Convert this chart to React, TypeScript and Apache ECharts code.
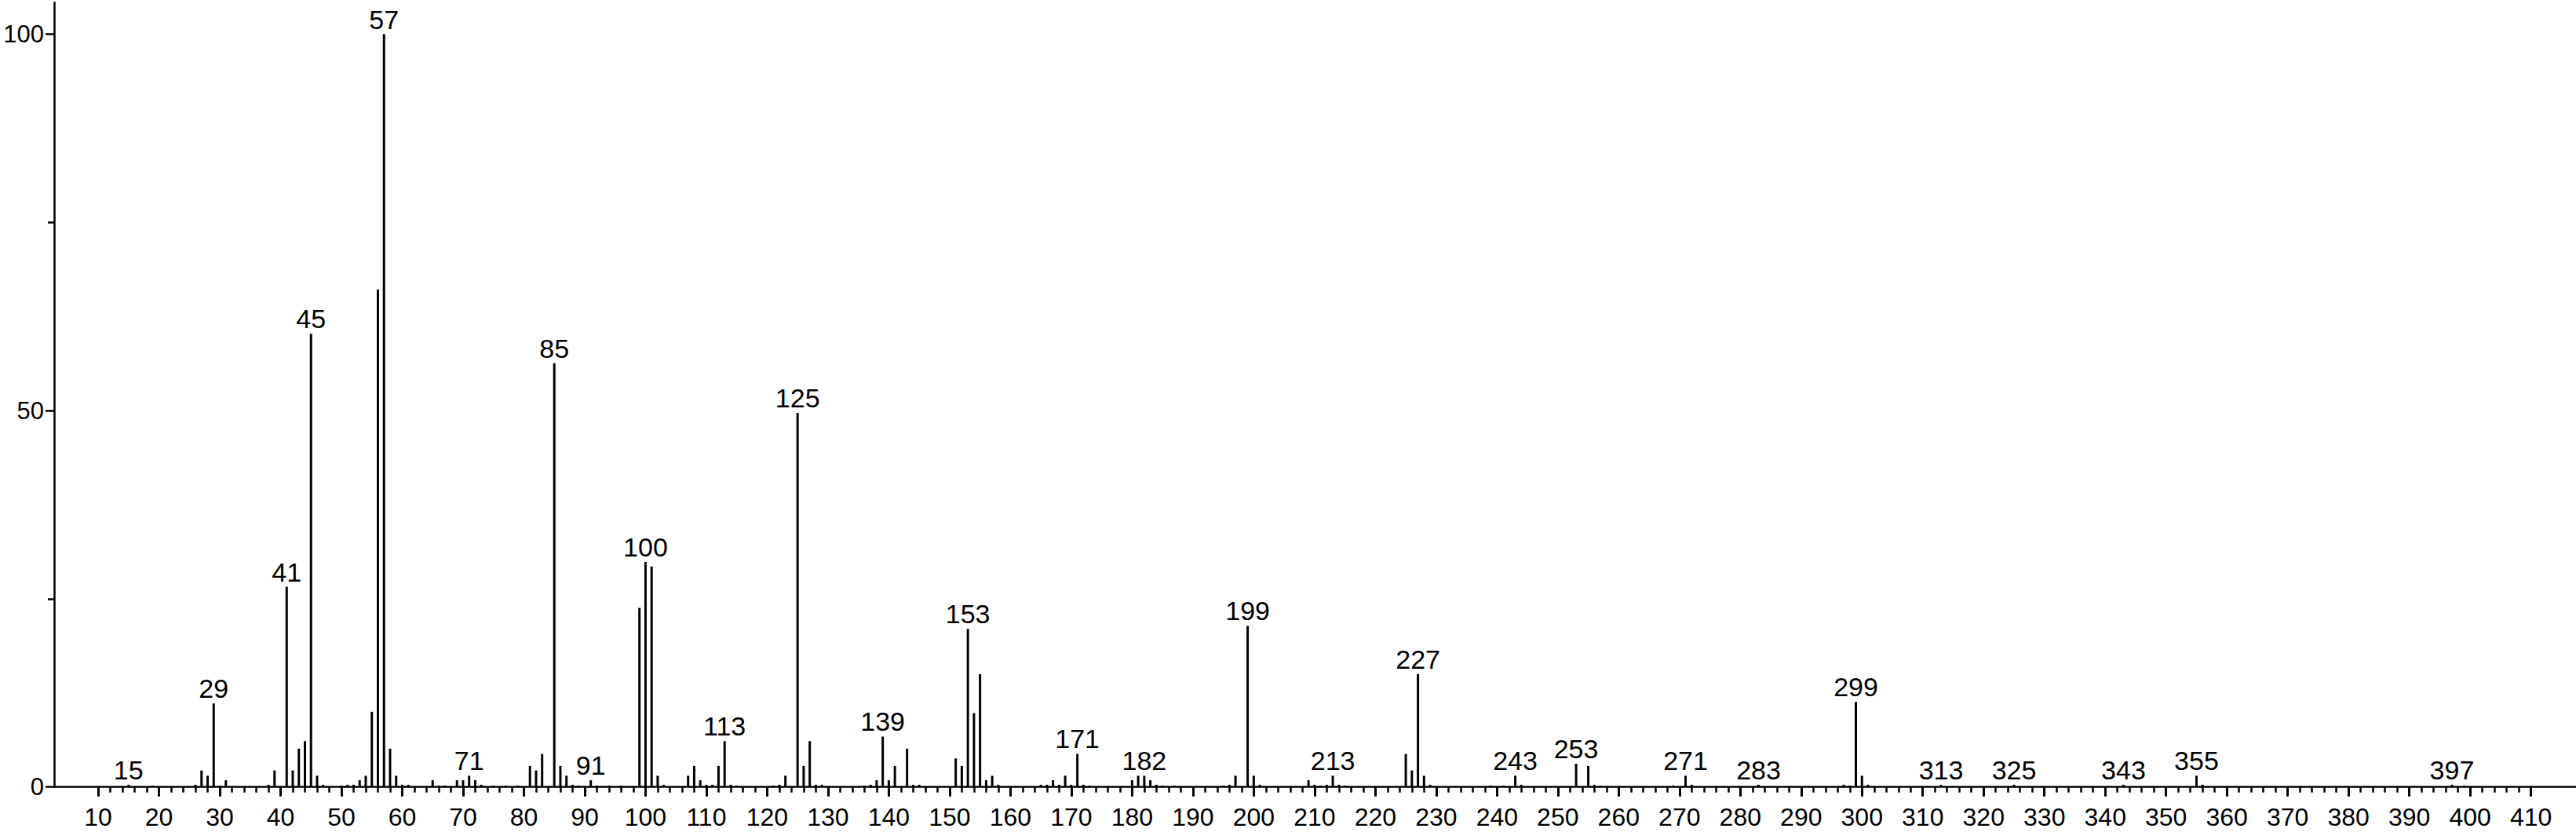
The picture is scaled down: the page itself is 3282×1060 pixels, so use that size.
import React, { useEffect, useRef } from "react";
import * as echarts from "echarts";

// m/z values of the peaks
const masses = [
  15, 19, 26, 27, 28, 29, 30, 31, 38, 39, 41, 42, 43, 44, 45, 46, 47, 50, 51, 52,
  53, 54, 55, 56, 57, 58, 59, 60, 61, 65, 66, 67, 69, 70, 71, 72, 73, 75, 77, 79,
  81, 82, 83, 85, 86, 87, 88, 89, 91, 92, 94, 96, 99, 100, 101, 102, 103, 107, 108, 109,
  110, 111, 112, 113, 114, 115, 121, 122, 123, 125, 126, 127, 128, 129, 136, 137, 138, 139, 140, 141,
  143, 144, 145, 151, 152, 153, 154, 155, 156, 157, 158, 165, 166, 167, 168, 169, 170, 171, 172, 173,
  180, 181, 182, 183, 184, 185, 187, 195, 196, 197, 199, 200, 201, 209, 210, 211, 212, 213, 214, 215,
  225, 226, 227, 228, 229, 239, 241, 243, 244, 253, 255, 256, 257, 269, 271, 272, 283, 297, 298, 299,
  300, 301, 313, 325, 343, 355, 356, 397, 399,
];

// relative intensities (%)
const intensities = [
  0.3, 0.2, 0.3, 2.2, 1.5, 11.1, 0.2, 0.9, 0.3, 2.2, 26.6, 2.2, 5.1, 6.1, 60.2, 1.5, 0.3, 0.2, 0.3, 0.3,
  0.9, 1.5, 10.0, 66.1, 100, 5.1, 1.5, 0.3, 0.3, 0.9, 0.2, 0.2, 0.9, 0.9, 1.5, 0.9, 0.3, 0.2, 0.2, 0.2,
  2.8, 2.2, 4.4, 56.3, 2.8, 1.5, 0.3, 0.2, 0.9, 0.2, 0.2, 0.2, 23.8, 29.9, 29.3, 1.5, 0.3, 1.5, 2.8, 0.9,
  0.3, 0.3, 2.8, 6.1, 0.3, 0.2, 0.2, 0.3, 1.5, 49.7, 2.8, 6.1, 0.3, 0.3, 0.2, 0.3, 0.9, 6.7, 0.9, 2.8,
  5.1, 0.3, 0.3, 3.8, 2.8, 21.0, 9.8, 15.0, 0.9, 1.5, 0.3, 0.3, 0.3, 0.9, 0.3, 1.5, 0.3, 4.4, 0.3, 0.2,
  0.9, 1.5, 1.5, 0.9, 0.3, 0.2, 0.2, 0.2, 0.3, 1.5, 21.4, 1.5, 0.3, 0.9, 0.3, 0.2, 0.3, 1.5, 0.3, 0.2,
  4.4, 2.2, 15.0, 1.5, 0.3, 0.2, 0.2, 1.5, 0.3, 3.1, 2.8, 0.3, 0.2, 0.2, 1.5, 0.3, 0.3, 0.3, 0.2, 11.3,
  1.5, 0.3, 0.3, 0.3, 0.3, 1.5, 0.3, 0.3, 0.2,
];

// peaks annotated with their m/z
const labeledMasses = [
  15, 29, 41, 45, 57, 71, 85, 91, 100, 113, 125, 139, 153, 171, 182, 199, 213, 227, 243, 253,
  271, 283, 299, 313, 325, 343, 355, 397,
];

// axis tick labels
const xMajorTicks = [
  10, 20, 30, 40, 50, 60, 70, 80, 90, 100, 110, 120, 130, 140, 150, 160, 170, 180, 190, 200,
  210, 220, 230, 240, 250, 260, 270, 280, 290, 300, 310, 320, 330, 340, 350, 360, 370, 380, 390, 400, 410,
];
const yMajorTicks = [0, 50, 100];
const yMinorTicks = [25, 75];

const xMinorTicks: number[] = [];
for (let i = 0; i < xMajorTicks.length - 1; i++) {
  for (let k = 2; k < 10; k += 2) xMinorTicks.push(xMajorTicks[i] + k);
}

const X_MIN = 2.77;
const X_MAX = 417.4;
const Y_MIN = 0;
const Y_MAX = 104.2;
const FONT = "'Liberation Sans', Arial, Helvetica, sans-serif";

export default function App() {
  const ref = useRef<HTMLDivElement>(null);

  useEffect(() => {
    if (!ref.current) return;
    const chart = echarts.init(ref.current, undefined, { renderer: "svg" });
    const labeled = new Set(labeledMasses);
    const data = masses.map((m, i) => ({
      value: [m, intensities[i]],
      label: { show: labeled.has(m) },
    }));

    const option: any = {
      animation: false,
      backgroundColor: "#ffffff",
      grid: {
        left: 69,
        right: 0,
        top: 3.3,
        bottom: 57.3,
        containLabel: false,
        outerBoundsMode: "none",
      },
      xAxis: [
        {
          type: "value",
          min: X_MIN,
          max: X_MAX,
          position: "bottom",
          axisLine: { show: true, onZero: false, lineStyle: { color: "#000", width: 2.5 } },
          axisTick: {
            show: true,
            length: 12,
            customValues: xMajorTicks,
            lineStyle: { color: "#000", width: 3 },
          },
          axisLabel: {
            show: true,
            customValues: xMajorTicks,
            fontSize: 32,
            margin: 22,
            color: "#000",
            fontFamily: FONT,
          },
          splitLine: { show: false },
        },
        {
          type: "value",
          min: X_MIN,
          max: X_MAX,
          position: "bottom",
          offset: 0,
          axisLine: { show: false, onZero: false },
          axisTick: {
            show: true,
            length: 7,
            customValues: xMinorTicks,
            lineStyle: { color: "#000", width: 2.5 },
          },
          axisLabel: { show: false },
          splitLine: { show: false },
        },
      ],
      yAxis: [
        {
          type: "value",
          min: Y_MIN,
          max: Y_MAX,
          position: "left",
          axisLine: { show: true, onZero: false, lineStyle: { color: "#000", width: 2.5 } },
          axisTick: {
            show: true,
            length: 11,
            customValues: yMajorTicks,
            lineStyle: { color: "#000", width: 2.5 },
          },
          axisLabel: {
            show: true,
            customValues: yMajorTicks,
            fontSize: 31,
            margin: 13,
            color: "#000",
            fontFamily: FONT,
          },
          splitLine: { show: false },
        },
        {
          type: "value",
          min: Y_MIN,
          max: Y_MAX,
          position: "left",
          offset: 0,
          axisLine: { show: false, onZero: false },
          axisTick: {
            show: true,
            length: 8,
            customValues: yMinorTicks,
            lineStyle: { color: "#000", width: 2.5 },
          },
          axisLabel: { show: false },
          splitLine: { show: false },
        },
      ],
      series: [
        {
          type: "bar",
          xAxisIndex: 0,
          yAxisIndex: 0,
          barWidth: 3,
          data,
          itemStyle: { color: "#000" },
          label: {
            position: "top",
            distance: 2,
            fontSize: 34,
            color: "#000",
            fontFamily: FONT,
            formatter: (p: any) => String(p.value[0]),
          },
        },
      ],
    };

    chart.setOption(option);
    return () => chart.dispose();
  }, []);

  return (
    <div
      ref={ref}
      style={{ position: "fixed", left: 0, top: 0, width: 3282, height: 1060, background: "#fff" }}
    />
  );
}
